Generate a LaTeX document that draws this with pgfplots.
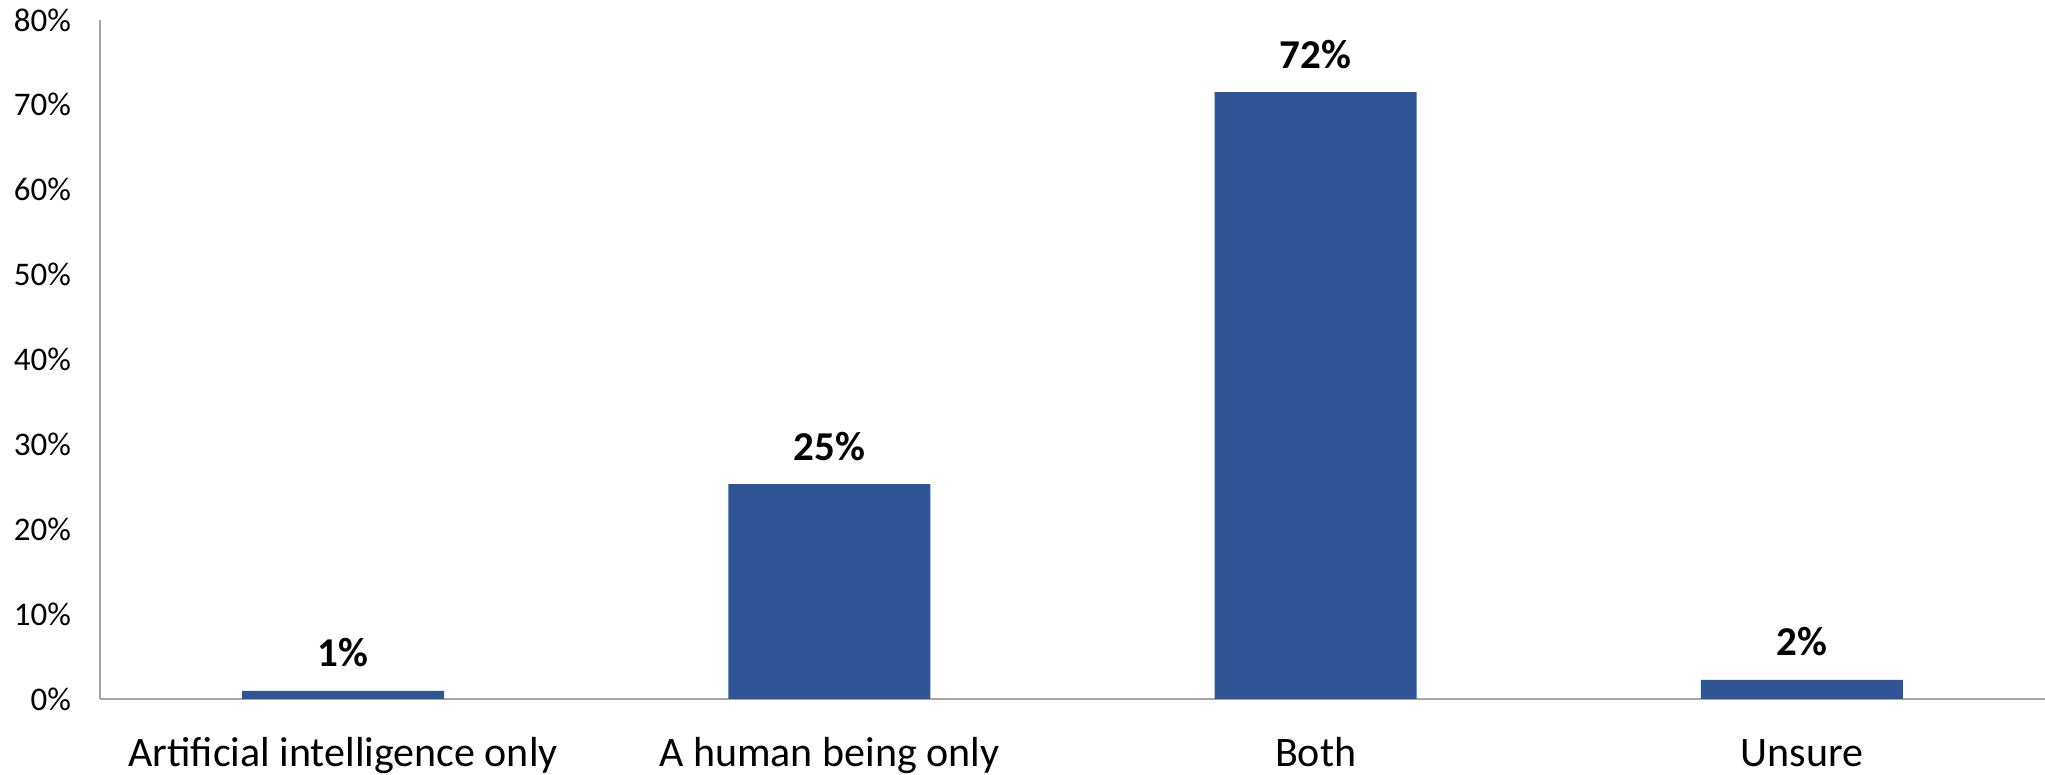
\documentclass[border=0pt]{standalone}
\usepackage{fontspec}
\setmainfont{Carlito}
\usepackage{pgfplots}
\pgfplotsset{compat=1.18}
\definecolor{barblue}{HTML}{2F5597}
\definecolor{axgray}{HTML}{A6A6A6}
\begin{document}
\begin{tikzpicture}
\begin{axis}[
  scale only axis,
  width=972.5pt, height=339.5pt,
  xmin=-0.5, xmax=3.5,
  ymin=0, ymax=80,
  ytick={0,10,...,80},
  yticklabel={\pgfmathprintnumber{\tick}\%},
  /pgf/number format/assume math mode=true,
  xtick={0,1,2,3},
  xticklabels={Artificial intelligence only, A human being only, Both, Unsure},
  axis x line*=bottom, axis y line*=left,
  axis line style={axgray, line width=1.2pt},
  x axis line style={-}, y axis line style={-},
  major tick length=0pt,
  tick style={draw=none},
  yticklabel style={font=\fontsize{16.5}{19}\selectfont, xshift=-11pt},
  xticklabel style={font=\fontsize{21}{25}\selectfont, anchor=base, yshift=-34pt},
  ybar, bar width=101pt,
  point meta=explicit symbolic,
  nodes near coords,
  every node near coord/.append style={anchor=base, yshift=12pt, font=\fontsize{20.5}{24}\selectfont\bfseries, text=black},
  clip=false,
]
\addplot[fill=barblue, draw=none] coordinates {
  (0,0.95) [1\%]
  (1,25.3) [25\%]
  (2,71.5) [72\%]
  (3,2.25) [2\%]
};
\coordinate (bl) at (rel axis cs:0,0);
\coordinate (tr) at (rel axis cs:1,1);
\end{axis}
\pgfresetboundingbox
\path ([xshift=-50pt,yshift=-38pt]bl) rectangle ([yshift=10pt]tr);
\end{tikzpicture}
\end{document}
